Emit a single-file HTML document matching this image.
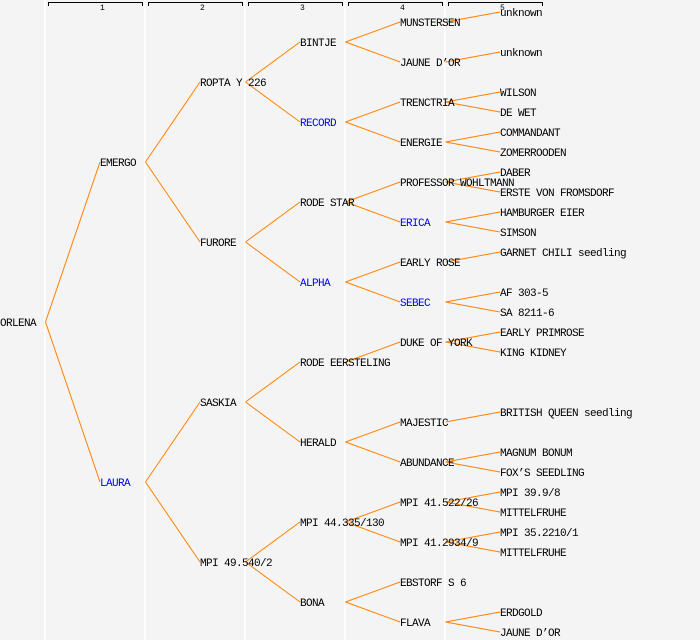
<!DOCTYPE html>
<html><head><meta charset="utf-8"><style>
html,body{margin:0;padding:0;background:#f4f4f4;}
svg{display:block;}
text{font-family:"Liberation Mono",monospace;font-size:11px;letter-spacing:-0.6px;fill:#000;}
.b{fill:#0000ff;}
.h{font-size:8px;letter-spacing:0;}
line,polyline{stroke:#ff8000;stroke-width:1;fill:none;}
</style></head><body>
<svg width="700" height="640" xmlns="http://www.w3.org/2000/svg">
<rect width="700" height="640" fill="#f4f4f4"/>
<g fill="#ffffff">
<rect x="44" y="0" width="1.5" height="640"/>
<rect x="144" y="0" width="1.5" height="640"/>
<rect x="244" y="0" width="1.5" height="640"/>
<rect x="344" y="0" width="1.5" height="640"/>
<rect x="444" y="0" width="1.5" height="640"/>
</g>
<g stroke="#000" fill="none" stroke-width="1">
<polyline style="stroke:#000" points="48.5,6 48.5,2.5 142.5,2.5 142.5,6"/>
<polyline style="stroke:#000" points="148.5,6 148.5,2.5 242.5,2.5 242.5,6"/>
<polyline style="stroke:#000" points="248.5,6 248.5,2.5 342.5,2.5 342.5,6"/>
<polyline style="stroke:#000" points="348.5,6 348.5,2.5 442.5,2.5 442.5,6"/>
<polyline style="stroke:#000" points="448.5,6 448.5,2.5 542.5,2.5 542.5,6"/>
</g>
<text class="h" x="100" y="10">1</text>
<text class="h" x="200" y="10">2</text>
<text class="h" x="300" y="10">3</text>
<text class="h" x="400" y="10">4</text>
<text class="h" x="500" y="10">5</text>

<g>
<!-- gen1->2 -->
<line x1="45.5" y1="322" x2="100" y2="162"/><line x1="45.5" y1="322" x2="100" y2="482"/>
<!-- gen2->3 -->
<line x1="145.5" y1="162" x2="200" y2="82"/><line x1="145.5" y1="162" x2="200" y2="242"/>
<line x1="145.5" y1="482" x2="200" y2="402"/><line x1="145.5" y1="482" x2="200" y2="562"/>
<!-- gen3->4 -->
<line x1="245.5" y1="82" x2="300" y2="42"/><line x1="245.5" y1="82" x2="300" y2="122"/>
<line x1="245.5" y1="242" x2="300" y2="202"/><line x1="245.5" y1="242" x2="300" y2="282"/>
<line x1="245.5" y1="402" x2="300" y2="362"/><line x1="245.5" y1="402" x2="300" y2="442"/>
<line x1="245.5" y1="562" x2="300" y2="522"/><line x1="245.5" y1="562" x2="300" y2="602"/>
<!-- gen4->5 -->
<line x1="345.5" y1="42" x2="400" y2="22"/><line x1="345.5" y1="42" x2="400" y2="62"/>
<line x1="345.5" y1="122" x2="400" y2="102"/><line x1="345.5" y1="122" x2="400" y2="142"/>
<line x1="345.5" y1="202" x2="400" y2="182"/><line x1="345.5" y1="202" x2="400" y2="222"/>
<line x1="345.5" y1="282" x2="400" y2="262"/><line x1="345.5" y1="282" x2="400" y2="302"/>
<line x1="345.5" y1="362" x2="400" y2="342"/>
<line x1="345.5" y1="442" x2="400" y2="422"/><line x1="345.5" y1="442" x2="400" y2="462"/>
<line x1="345.5" y1="522" x2="400" y2="502"/><line x1="345.5" y1="522" x2="400" y2="542"/>
<line x1="345.5" y1="602" x2="400" y2="582"/><line x1="345.5" y1="602" x2="400" y2="622"/>
<!-- gen5->6 -->
<line x1="445.5" y1="22" x2="500" y2="12"/>
<line x1="445.5" y1="62" x2="500" y2="52"/>
<line x1="445.5" y1="102" x2="500" y2="92"/><line x1="445.5" y1="102" x2="500" y2="112"/>
<line x1="445.5" y1="142" x2="500" y2="132"/><line x1="445.5" y1="142" x2="500" y2="152"/>
<line x1="445.5" y1="182" x2="500" y2="172"/><line x1="445.5" y1="182" x2="500" y2="192"/>
<line x1="445.5" y1="222" x2="500" y2="212"/><line x1="445.5" y1="222" x2="500" y2="232"/>
<line x1="445.5" y1="262" x2="500" y2="252"/>
<line x1="445.5" y1="302" x2="500" y2="292"/><line x1="445.5" y1="302" x2="500" y2="312"/>
<line x1="445.5" y1="342" x2="500" y2="332"/><line x1="445.5" y1="342" x2="500" y2="352"/>
<line x1="445.5" y1="422" x2="500" y2="412"/>
<line x1="445.5" y1="462" x2="500" y2="452"/><line x1="445.5" y1="462" x2="500" y2="472"/>
<line x1="445.5" y1="502" x2="500" y2="492"/><line x1="445.5" y1="502" x2="500" y2="512"/>
<line x1="445.5" y1="542" x2="500" y2="532"/><line x1="445.5" y1="542" x2="500" y2="552"/>
<line x1="445.5" y1="622" x2="500" y2="612"/><line x1="445.5" y1="622" x2="500" y2="632"/>
</g>

<g>
<text x="0" y="326">ORLENA</text>
<text x="100" y="166">EMERGO</text>
<text x="100" y="486" class="b">LAURA</text>
<text x="200" y="86">ROPTA Y 226</text>
<text x="200" y="246">FURORE</text>
<text x="200" y="406">SASKIA</text>
<text x="200" y="566">MPI 49.540/2</text>
<text x="300" y="46">BINTJE</text>
<text x="300" y="126" class="b">RECORD</text>
<text x="300" y="206">RODE STAR</text>
<text x="300" y="286" class="b">ALPHA</text>
<text x="300" y="366">RODE EERSTELING</text>
<text x="300" y="446">HERALD</text>
<text x="300" y="526">MPI 44.335/130</text>
<text x="300" y="606">BONA</text>
<text x="400" y="26">MUNSTERSEN</text>
<text x="400" y="66">JAUNE D’OR</text>
<text x="400" y="106">TRENCTRIA</text>
<text x="400" y="146">ENERGIE</text>
<text x="400" y="186">PROFESSOR WOHLTMANN</text>
<text x="400" y="226" class="b">ERICA</text>
<text x="400" y="266">EARLY ROSE</text>
<text x="400" y="306" class="b">SEBEC</text>
<text x="400" y="346">DUKE OF YORK</text>
<text x="400" y="426">MAJESTIC</text>
<text x="400" y="466">ABUNDANCE</text>
<text x="400" y="506">MPI 41.522/26</text>
<text x="400" y="546">MPI 41.2934/9</text>
<text x="400" y="586">EBSTORF S 6</text>
<text x="400" y="626">FLAVA</text>
<text x="500" y="16">unknown</text>
<text x="500" y="56">unknown</text>
<text x="500" y="96">WILSON</text>
<text x="500" y="116">DE WET</text>
<text x="500" y="136">COMMANDANT</text>
<text x="500" y="156">ZOMERROODEN</text>
<text x="500" y="176">DABER</text>
<text x="500" y="196">ERSTE VON FROMSDORF</text>
<text x="500" y="216">HAMBURGER EIER</text>
<text x="500" y="236">SIMSON</text>
<text x="500" y="256">GARNET CHILI seedling</text>
<text x="500" y="296">AF 303-5</text>
<text x="500" y="316">SA 8211-6</text>
<text x="500" y="336">EARLY PRIMROSE</text>
<text x="500" y="356">KING KIDNEY</text>
<text x="500" y="416">BRITISH QUEEN seedling</text>
<text x="500" y="456">MAGNUM BONUM</text>
<text x="500" y="476">FOX’S SEEDLING</text>
<text x="500" y="496">MPI 39.9/8</text>
<text x="500" y="516">MITTELFRUHE</text>
<text x="500" y="536">MPI 35.2210/1</text>
<text x="500" y="556">MITTELFRUHE</text>
<text x="500" y="616">ERDGOLD</text>
<text x="500" y="636">JAUNE D’OR</text>
</g>
</svg>
</body></html>
